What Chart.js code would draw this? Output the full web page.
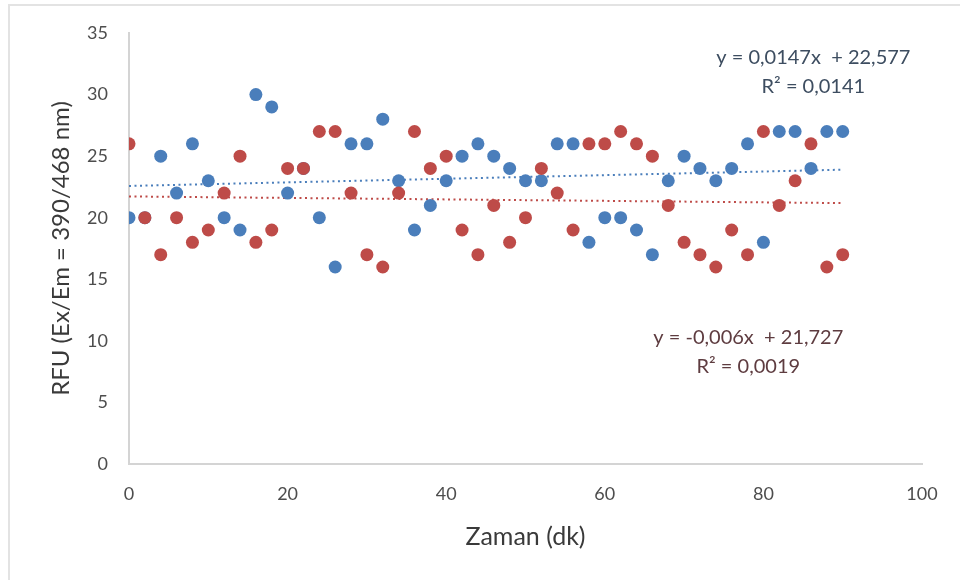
<!DOCTYPE html>
<html>
<head>
<meta charset="utf-8">
<script src="https://cdn.jsdelivr.net/npm/chart.js@4.4.1/dist/chart.umd.min.js"></script>
<style>
  html, body { margin: 0; padding: 0; background: #ffffff; }
  #wrap { position: relative; width: 960px; height: 580px; overflow: hidden; }
  #frame { position: absolute; left: 8px; top: 4px; right: -10px; bottom: -10px; border-left: 2px solid #e3e3e3; border-top: 2px solid #e3e3e3; pointer-events: none; }
  canvas { position: absolute; left: 0; top: 0; }
</style>
</head>
<body>
<div id="wrap">
  <canvas id="c" width="960" height="580"></canvas>
  <div id="frame"></div>
</div>
<script>
// ---- data ----
const times = [0,2,4,6,8,10,12,14,16,18,20,22,24,26,28,30,32,34,36,38,40,42,44,46,48,50,52,54,56,58,60,62,64,66,68,70,72,74,76,78,80,82,84,86,88,90];
const blueValues = [20,20,25,22,26,23,20,19,30,29,22,24,20,16,26,26,28,23,19,21,23,25,26,25,24,23,23,26,26,18,20,20,19,17,23,25,24,23,24,26,18,27,27,24,27,27];
const redValues  = [26,20,17,20,18,19,22,25,18,19,24,24,27,27,22,17,16,22,27,24,25,19,17,21,18,20,24,22,19,26,26,27,26,25,21,18,17,16,19,17,27,21,23,26,16,17];
const blueTrend = { slope: 0.0147, intercept: 22.577 };
const redTrend  = { slope: -0.006, intercept: 21.727 };
const blueLabel = ["y = 0,0147x  + 22,577", "R\u00B2 = 0,0141"];
const redLabel  = ["y = -0,006x  + 21,727", "R\u00B2 = 0,0019"];
const xTicks = [0, 20, 40, 60, 80, 100];
const yTicks = [0, 5, 10, 15, 20, 25, 30, 35];
const xTitle = "Zaman (dk)";
const yTitle = "RFU (Ex/Em = 390/468 nm)";

const BLUE = '#4a7ebb';
const RED = '#be4b48';
const FONT = 'Lato, "Open Sans", "Liberation Sans", sans-serif';

const pts = (vals) => times.map((t, i) => ({ x: t, y: vals[i] }));
const trendPts = (tr) => {
  const x0 = Math.min(...times), x1 = Math.max(...times);
  return [{ x: x0, y: tr.slope * x0 + tr.intercept }, { x: x1, y: tr.slope * x1 + tr.intercept }];
};

const labelPlugin = {
  id: 'eqLabels',
  afterDatasetsDraw(chart) {
    const { ctx, scales } = chart;
    const drawLbl = (lines, xv, yv, color) => {
      const px = scales.x.getPixelForValue(xv);
      const py = scales.y.getPixelForValue(yv);
      ctx.save();
      ctx.font = '20px ' + FONT;
      ctx.fillStyle = color;
      ctx.textAlign = 'center';
      ctx.textBaseline = 'middle';
      lines.forEach((l, i) => ctx.fillText(l, px, py + i * 29));
      ctx.restore();
    };
    drawLbl(blueLabel, 86.3, 33.0, '#3d4d60');
    drawLbl(redLabel, 78.1, 10.3, '#5e3c40');
  }
};

new Chart(document.getElementById('c'), {
  type: 'scatter',
  data: {
    datasets: [
      { label: 'red', data: pts(redValues), backgroundColor: RED, borderColor: RED, pointRadius: 6.5, pointBorderWidth: 0, order: 0 },
      { label: 'blue', data: pts(blueValues), backgroundColor: BLUE, borderColor: BLUE, pointRadius: 6.5, pointBorderWidth: 0, order: 1 },
      { type: 'line', label: 'redTrend', data: trendPts(redTrend), borderColor: RED, borderWidth: 2, borderDash: [2, 3.5], pointRadius: 0, fill: false, order: 2 },
      { type: 'line', label: 'blueTrend', data: trendPts(blueTrend), borderColor: BLUE, borderWidth: 2, borderDash: [2, 3.5], pointRadius: 0, fill: false, order: 3 }
    ]
  },
  options: {
    responsive: false,
    animation: false,
    layout: { padding: { left: 10, top: 33, right: 38, bottom: 10 } },
    plugins: { legend: { display: false }, tooltip: { enabled: false } },
    scales: {
      x: {
        type: 'linear', min: 0, max: 100,
        afterBuildTicks: (s) => { s.ticks = xTicks.map(v => ({ value: v })); },
        afterFit: (s) => { s.height = 106; },
        grid: { display: false, drawTicks: false },
        border: { display: true, color: '#d4d4d4', width: 2 },
        ticks: { color: '#4d4d4d', font: { family: FONT, size: 18 }, padding: 19, maxRotation: 0 },
        title: { display: true, text: xTitle, color: '#3a3a3a', font: { family: FONT, size: 25 }, padding: { top: 0, bottom: 18 } }
      },
      y: {
        type: 'linear', min: 0, max: 35,
        afterBuildTicks: (s) => { s.ticks = yTicks.map(v => ({ value: v })); },
        afterFit: (s) => { s.width = 119; },
        grid: { display: false, drawTicks: false },
        border: { display: true, color: '#d4d4d4', width: 2 },
        ticks: { color: '#4d4d4d', font: { family: FONT, size: 18 }, padding: 21 },
        title: { display: true, text: yTitle, color: '#3a3a3a', font: { family: FONT, size: 24 }, padding: { top: 37, bottom: 0 } }
      }
    }
  },
  plugins: [labelPlugin]
});
</script>
</body>
</html>
